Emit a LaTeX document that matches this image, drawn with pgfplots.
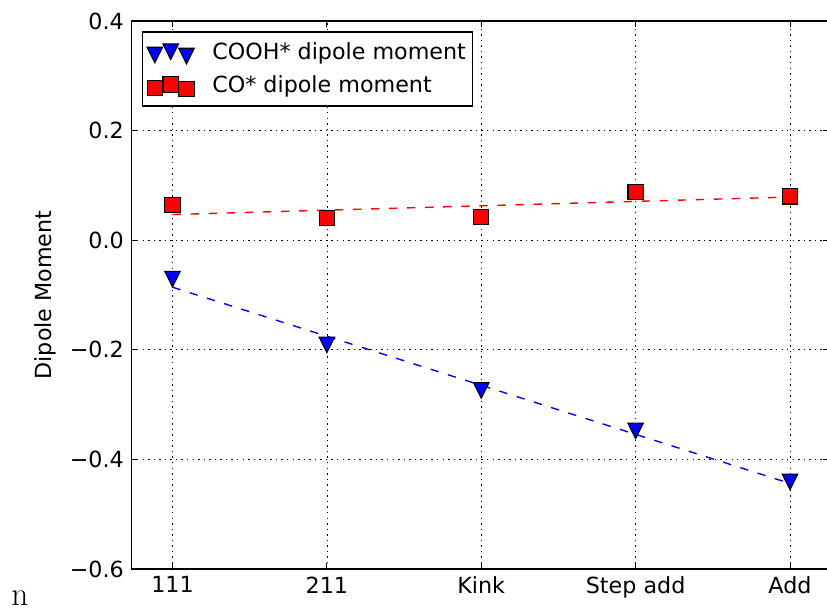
\documentclass[border=0pt]{standalone}
\usepackage{fontspec}
\newfontfamily\dejavu{DejaVu Sans}
\usepackage{pgfplots}
\pgfplotsset{compat=1.18}
\pgfdeclareplotmark{mpltri}{%
 \pgfpathmoveto{\pgfqpoint{0pt}{-\pgfplotmarksize}}%
 \pgfpathlineto{\pgfqpoint{-\pgfplotmarksize}{\pgfplotmarksize}}%
 \pgfpathlineto{\pgfqpoint{\pgfplotmarksize}{\pgfplotmarksize}}%
 \pgfpathclose\pgfusepathqfillstroke}
\pgfplotsset{mpllegend/.style={legend image code/.code={\draw[##1] plot[only marks] coordinates {(5.6pt,-1.8pt) (17pt,0.6pt) (28.4pt,-2.5pt)};}}}
\newcommand\mplfont{\dejavu\fontsize{16}{19.2}\selectfont}
\begin{document}
\begin{tikzpicture}
\begin{axis}[
 scale only axis, width=502.2pt, height=394.56pt,
 xmin=-0.2655, xmax=4.2526, ymin=-0.6, ymax=0.4,
 xtick={0,1,2,3,4}, xticklabels={111,211,Kink,Step add,Add},
 ytick={-0.6,-0.4,-0.2,0,0.2,0.4},
 yticklabels={−0.6,−0.4,−0.2,0.0,0.2,0.4},
 tick align=inside, major tick length=4pt,
 axis line style={line width=1pt},
 every tick/.style={black, line width=0.6pt},
 grid=major, grid style={black, line width=0.5pt, dash pattern=on 1pt off 3pt},
 ylabel={Dipole Moment},
 every axis y label/.style={at={(axis description cs:-0.1240,0.5)}, rotate=90, anchor=center},
 tick label style={font=\mplfont},
 label style={font=\mplfont},
 yticklabel style={xshift=-2pt},
 xticklabel style={yshift=-2pt},
 legend style={font=\mplfont, at={(axis description cs:0.0155,0.981)}, anchor=north west, draw=black, line width=0.8pt, inner xsep=3pt, inner ysep=6pt, row sep=6pt, column sep=11pt},
 legend cell align=left,
]
\addplot[red, line width=1pt, dash pattern=on 6pt off 7pt, forget plot] coordinates {(0,0.0468) (4,0.0788)};
\addplot[blue, line width=1pt, dash pattern=on 6pt off 7pt, forget plot] coordinates {(0,-0.0858) (4,-0.4438)};
\addplot[only marks, mark=mpltri, mark size=5.6pt, draw=black, fill=blue, mark options={line width=0.8pt}, mpllegend]
 coordinates {(0,-0.071) (1,-0.191) (2,-0.274) (3,-0.348) (4,-0.441)};
\addlegendentry{COOH* dipole moment}
\addplot[only marks, mark=square*, mark size=5.5pt, draw=black, fill=red, mark options={line width=0.8pt}, mpllegend]
 coordinates {(0,0.064) (1,0.040) (2,0.042) (3,0.088) (4,0.080)};
\addlegendentry{CO* dipole moment}
\end{axis}
\node[font=\fontsize{24}{28}\selectfont] at (-80.3pt,-20.9pt) {n};
\pgfresetboundingbox
\useasboundingbox (-94.68pt,-29.52pt) rectangle (500.76pt,409.68pt);
\end{tikzpicture}
\end{document}
